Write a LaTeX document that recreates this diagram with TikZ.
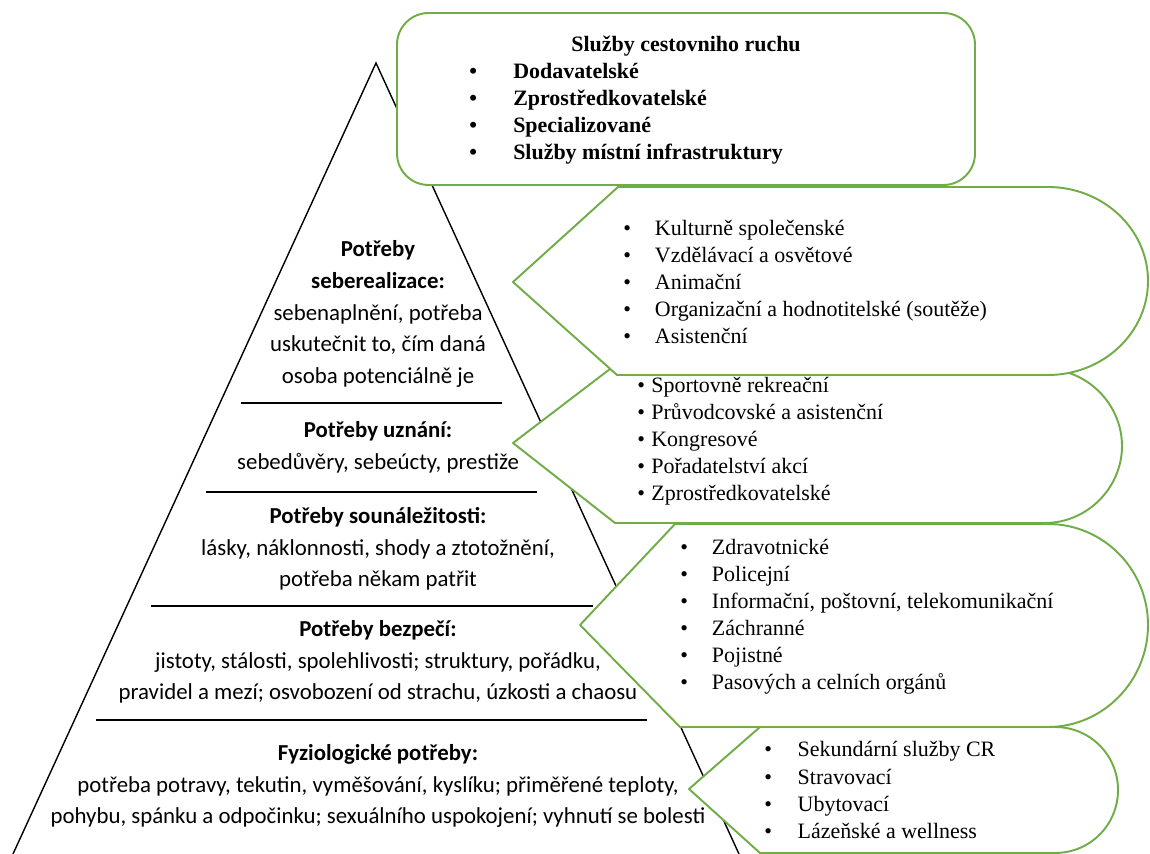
\documentclass[tikz,border=0pt]{standalone}
\usepackage{fontspec}
\setmainfont{Liberation Serif}
\newfontfamily\calibri{Carlito}
\definecolor{offgreen}{RGB}{112,173,71}
\newcommand{\bul}[1][18pt]{\makebox[#1][l]{\textbullet}}

\begin{document}
\begin{tikzpicture}[x=0.02cm, y=-0.02cm,
                    callout/.style={draw=offgreen, line width=1.1pt, fill=white, line join=round},
                    level line/.style={draw=black, line width=0.8pt},
                    need/.style={font=\calibri\fontsize{13}{18.1}\selectfont, align=center, inner sep=0pt},
                    list/.style={font=\fontsize{12.5}{15.4}\selectfont, align=left, anchor=west, inner sep=0pt}]

    \useasboundingbox (0,0) rectangle (1150,854);

    % pyramid
    \coordinate (apex)  at (376,63);
    \coordinate (baseL) at (13,854);
    \coordinate (baseR) at (739,854);
    \draw[level line] (baseL) -- (apex) -- (baseR);

    \coordinate (l1a) at (241,403); \coordinate (l1b) at (502,403);
    \coordinate (l2a) at (206,492); \coordinate (l2b) at (537,492);
    \coordinate (l3a) at (151,606); \coordinate (l3b) at (593,606);
    \coordinate (l4a) at (96,720);  \coordinate (l4b) at (647,720);
    \draw[level line] (l1a) -- (l1b);
    \draw[level line] (l2a) -- (l2b);
    \draw[level line] (l3a) -- (l3b);
    \draw[level line] (l4a) -- (l4b);

    \node[need] (selfreal) at (378,314) {\textbf{Potřeby}\\\textbf{seberealizace:}\\sebenaplnění, potřeba\\uskutečnit to, čím daná\\osoba potenciálně je};
    \node[need] (esteem)   at (378,447) {\textbf{Potřeby uznání:}\\sebedůvěry, sebeúcty, prestiže};
    \node[need] (belong)   at (378,549) {\textbf{Potřeby sounáležitosti:}\\lásky, náklonnosti, shody a ztotožnění,\\potřeba někam patřit};
    \node[need] (safety)   at (378,662) {\textbf{Potřeby bezpečí:}\\jistoty, stálosti, spolehlivosti; struktury, pořádku,\\pravidel a mezí; osvobození od strachu, úzkosti a chaosu};
    \node[need] (physio)   at (378,786) {\textbf{Fyziologické potřeby:}\\potřeba potravy, tekutin, vyměšování, kyslíku; přiměřené teploty,\\pohybu, spánku a odpočinku; sexuálního uspokojení; vyhnutí se bolesti};

    % callouts, lowest first
    \draw[callout] (689,789) -- (760,727) -- (1055,727) .. controls (1090,727) and (1118,755) .. (1118,790)
        .. controls (1118,825) and (1090,853) .. (1055,853) -- (760,853) -- cycle;
    \draw[callout] (580,625) -- (675,524) -- (1048,524) .. controls (1103,524) and (1148,569) .. (1148,625)
        .. controls (1148,681) and (1103,727) .. (1048,727) -- (680,727) -- cycle;
    \draw[callout] (513,443) -- (610,369) -- (1045,369) .. controls (1087,369) and (1122,404) .. (1122,446)
        .. controls (1122,488) and (1087,523) .. (1045,523) -- (615,523) -- cycle;
    \draw[callout] (513,282) -- (618,187) -- (1048,187) .. controls (1103,187) and (1148,229) .. (1148,281)
        .. controls (1148,333) and (1103,375) .. (1048,375) -- (617,375) -- cycle;
    \draw[callout, rounded corners=18pt] (397,13) rectangle (975,185);

    \node[font=\bfseries\fontsize{12.5}{15.4}\selectfont, inner sep=0pt] (cr) at (686,46) {Služby cestovniho ruchu};
    \node[list, font=\bfseries\fontsize{12.5}{15.4}\selectfont] (crlist) at (469,114)
        {\bul[25pt]Dodavatelské\\\bul[25pt]Zprostředkovatelské\\\bul[25pt]Specializované\\\bul[25pt]Služby místní infrastruktury};

    \node[list] (culture) at (623,282)
        {\bul Kulturně společenské\\\bul Vzdělávací a osvětové\\\bul Animační\\\bul Organizační a hodnotitelské (soutěže)\\\bul Asistenční};
    \node[list] (sport) at (637,441)
        {\bul[8pt]Sportovně rekreační\\\bul[8pt]Průvodcovské a asistenční\\\bul[8pt]Kongresové\\\bul[8pt]Pořadatelství akcí\\\bul[8pt]Zprostředkovatelské};
    \node[list] (public) at (680,617)
        {\bul Zdravotnické\\\bul Policejní\\\bul Informační, poštovní, telekomunikační\\\bul Záchranné\\\bul Pojistné\\\bul Pasových a celních orgánů};
    \node[list] (second) at (764,790)
        {\bul[19pt]Sekundární služby CR\\\bul[19pt]Stravovací\\\bul[19pt]Ubytovací\\\bul[19pt]Lázeňské a wellness};

\end{tikzpicture}
\end{document}
